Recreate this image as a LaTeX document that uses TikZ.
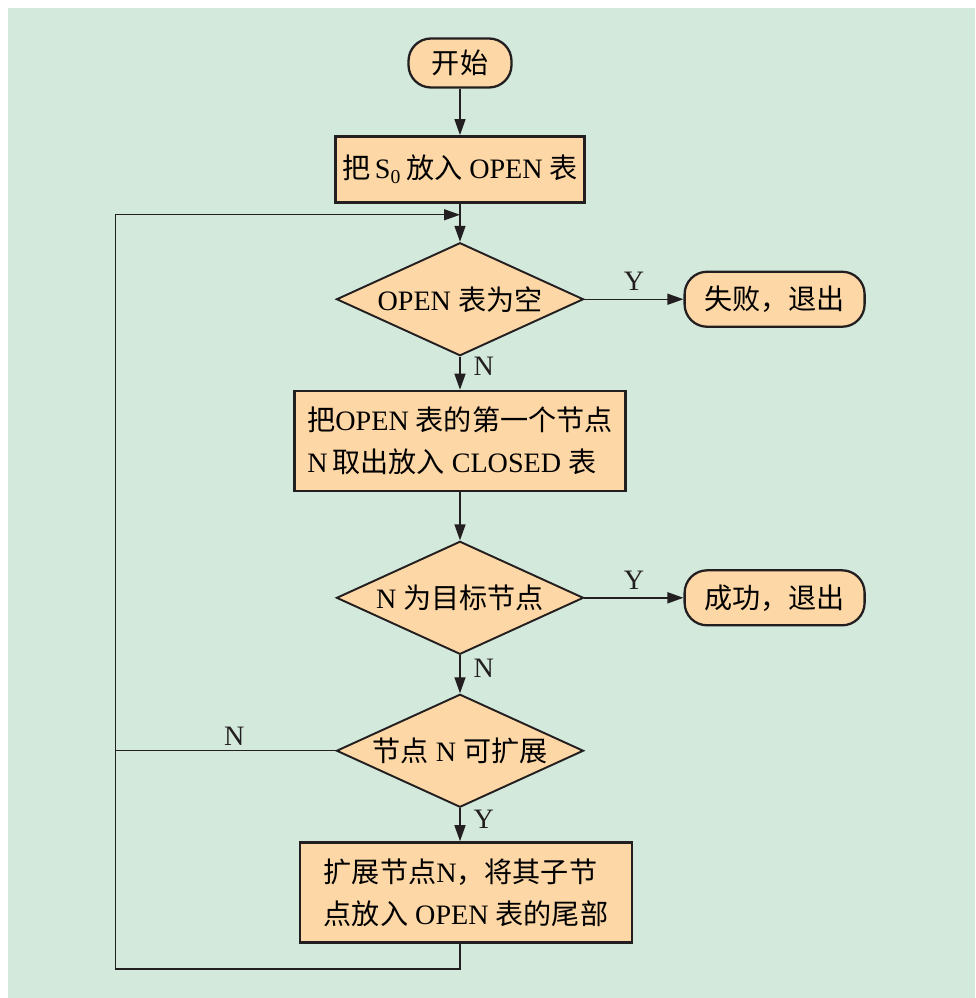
\documentclass[tikz,border=0pt]{standalone}
\usepackage{fontspec}
\setmainfont{Liberation Serif}
\newfontfamily\cjk{Noto Sans CJK SC}
\newcommand{\zh}[1]{{\cjk #1}}
\usepackage{tikz}
\usetikzlibrary{shapes.geometric, arrows.meta, positioning, calc}
\definecolor{panelgreen}{RGB}{210,233,220}
\definecolor{boxorange}{RGB}{253,215,165}
\definecolor{inkgray}{RGB}{35,31,32}
\tikzset{
  terminal/.style={
    rectangle, rounded corners=0.45cm, draw=inkgray, line width=1.3pt,
    fill=boxorange, minimum width=2.06cm, minimum height=0.98cm,
    text centered, font=\fontsize{16}{24}\selectfont
  },
  process/.style={
    rectangle, draw=inkgray, line width=1.5pt, fill=boxorange,
    minimum width=4.98cm, minimum height=1.32cm,
    align=left, font=\fontsize{16}{24}\selectfont
  },
  decision/.style={
    diamond, draw=inkgray, line width=1.1pt, fill=boxorange,
    aspect=2.2, inner sep=0pt, minimum width=4.94cm, minimum height=2.26cm,
    text centered, font=\fontsize{16}{24}\selectfont
  },
  line/.style={line width=0.8pt, color=inkgray},
  arrow/.style={line, -{Triangle[length=0.32cm,width=0.22cm]}},
  tag/.style={font=\fontsize{16}{20}\selectfont, text=inkgray},
}
\begin{document}
\begin{tikzpicture}[node distance=0.75cm and 2cm]
  \fill[panelgreen] (-9.04,1.10) rectangle (10.3,-18.7);
  \useasboundingbox (-9.2,1.26) rectangle (10.3,-18.7);

  \node (start)  [terminal]                               {\zh{开始}};
  \node (put)    [process,  below=0.93cm of start]        {\zh{把}\,S\textsubscript{0}\,\zh{放入} OPEN \zh{表}};
  \node (empty)  [decision, below=0.76cm of put]          {OPEN \zh{表为空}};
  \node (fail)   [terminal, minimum width=3.6cm, minimum height=1.1cm,
                  right=1.98cm of empty]                   {\zh{失败，退出}};
  \node (take)   [process, minimum width=6.62cm, minimum height=2cm,
                  below=0.66cm of empty]                   {\zh{把}OPEN \zh{表的第一个节点}\\N\,\zh{取出放入} CLOSED \zh{表}};
  \node (goal)   [decision, below=0.96cm of take]         {N \zh{为目标节点}};
  \node (succ)   [terminal, minimum width=3.6cm, minimum height=1.1cm,
                  right=1.98cm of goal]                    {\zh{成功，退出}};
  \node (canexp) [decision, below=0.76cm of goal]         {\zh{节点} N \zh{可扩展}};
  \node (expd)   [process, minimum width=6.64cm, minimum height=2cm,
                  below=0.66cm of canexp, xshift=0.12cm]   {\zh{扩展节点}N\zh{，将其子节}\\\zh{点放入} OPEN \zh{表的尾部}};

  \coordinate (join) at ($(put.south)+(0,-0.22)$);
  \coordinate (rail) at ($(canexp.west)+(-4.4,0)$);

  \draw [arrow] (start) -- (put);
  \draw [arrow] (put)   -- (empty);
  \draw [arrow] (empty) -- node[tag, above=1pt]{Y} (fail);
  \draw [arrow] (empty) -- node[tag, right=4pt, pos=0.3]{N} (take);
  \draw [arrow] (take)  -- (goal);
  \draw [arrow] (goal)  -- node[tag, above=1pt]{Y} (succ);
  \draw [arrow] (goal)  -- node[tag, right=4pt, pos=0.33]{N} (canexp);
  \draw [arrow] (canexp.south) -- node[tag, right=4pt, pos=0.35]{Y} (canexp.south |- expd.north);
  \draw [line]  (canexp.west) -- node[tag, above=-1pt, pos=0.46]{N} (rail);
  \draw [arrow] (canexp.south |- expd.south) -- ++(0,-0.5) -| (rail) |- (join);
\end{tikzpicture}
\end{document}
